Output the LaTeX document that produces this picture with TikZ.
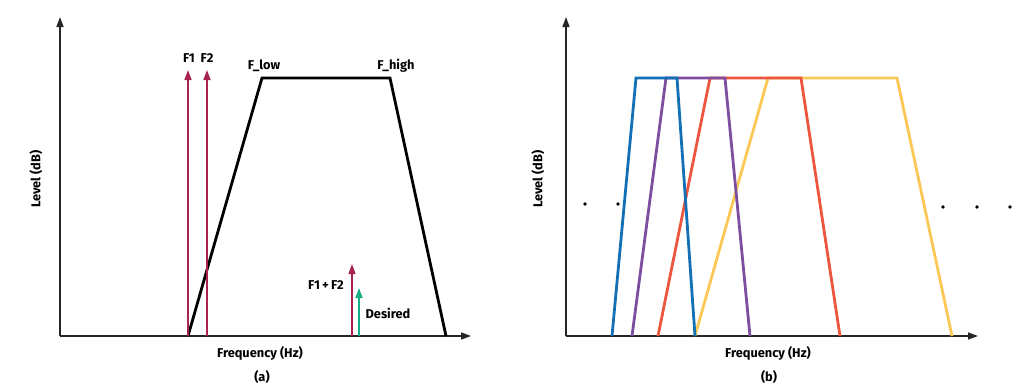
\documentclass[tikz,border=0pt]{standalone}
\usepackage{fontspec}
\setmainfont{Fira Sans}
\usetikzlibrary{arrows.meta}
\definecolor{adired}{RGB}{170,35,80}
\definecolor{adigreen}{RGB}{25,170,135}
\definecolor{cblue}{RGB}{20,112,180}
\definecolor{cpurple}{RGB}{125,78,160}
\definecolor{cred}{RGB}{236,85,62}
\definecolor{cyellow}{RGB}{252,200,85}
\tikzset{
  axis/.style={line width=1.6pt, draw=black!85, -{Triangle[length=10pt,width=7pt]}},
  tone/.style={line width=1.6pt, -{Triangle[length=10pt,width=7pt]}},
  band/.style={line width=2.8pt, line join=miter},
  lbl/.style={font=\bfseries\fontsize{12.8}{15}\selectfont, inner sep=1pt},
  dotmark/.style={fill=black, circle, inner sep=0pt, minimum size=3.6pt}
}
\begin{document}
\begin{tikzpicture}[x=1pt,y=-1pt]
\useasboundingbox (0,0) rectangle (1026,391);
% ----- panel (a)
\coordinate (oa) at (60,336);
\coordinate (ya) at (60,17);
\coordinate (xa) at (471,336);
\draw[axis] (oa) -- (ya);
\draw[axis] (oa) -- (xa);
\draw[band, black] (188,336) -- (262,78) -- (390,78) -- (446,336);
\coordinate (f1b) at (188,336); \coordinate (f1t) at (188,70);
\coordinate (f2b) at (207,336); \coordinate (f2t) at (207,70);
\coordinate (sb) at (352,336); \coordinate (st) at (352,264);
\coordinate (db) at (359,336); \coordinate (dt) at (359,288);
\draw[tone, adired] (f1b) -- (f1t);
\draw[tone, adired] (f2b) -- (f2t);
\draw[tone, adired] (sb) -- (st);
\draw[tone, adigreen] (db) -- (dt);
\node[lbl] (lf1) at (189,58) {F1};
\node[lbl] (lf2) at (207,58) {F2};
\node[lbl] (lfl) at (264,66) {F\_low};
\node[lbl] (lfh) at (396,66) {F\_high};
\node[lbl] (lsum) at (326,285) {F1\,+\,F2};
\node[lbl] (ldes) at (388,313) {Desired};
\node[lbl, rotate=90] (lya) at (36,179) {Level (dB)};
\node[lbl] (lxa) at (260,353) {Frequency (Hz)};
\node[lbl] (capa) at (262,377) {(a)};
% ----- panel (b)
\coordinate (ob) at (566,336);
\coordinate (yb) at (566,17);
\coordinate (xb) at (978,336);
\draw[axis] (ob) -- (yb);
\draw[axis] (ob) -- (xb);
\draw[band, cyellow] (695,336) -- (768,78) -- (897,78) -- (952,336);
\draw[band, cred] (658,336) -- (710,78) -- (801,78) -- (840,336);
\draw[band, cpurple] (632,336) -- (666,78) -- (725,78) -- (750,336);
\draw[band, cblue] (612,336) -- (636,78) -- (677,78) -- (695,336);
\node[dotmark] (d1) at (585,204) {};
\node[dotmark] (d2) at (618,204) {};
\node[dotmark] (d3) at (943,207) {};
\node[dotmark] (d4) at (977,207) {};
\node[dotmark] (d5) at (1010,207) {};
\node[lbl, rotate=90] (lyb) at (538,179) {Level (dB)};
\node[lbl] (lxb) at (768,353) {Frequency (Hz)};
\node[lbl] (capb) at (769,377) {(b)};
\end{tikzpicture}
\end{document}
